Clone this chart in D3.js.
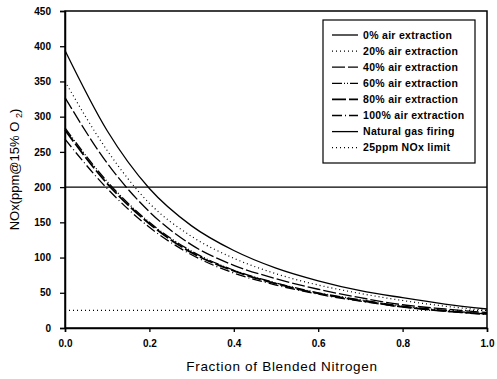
<!DOCTYPE html>
<html>
<head>
<meta charset="utf-8">
<script src="https://cdn.jsdelivr.net/npm/d3@7"></script>
<style>
  body { margin: 0; background: #fff; }
  text { font-family: Arial, "Liberation Sans", sans-serif; fill: #000; }
</style>
</head>
<body>
<script>
let w = 497;
let h = 379;

// fraction of blended nitrogen
let fractions = [0, 0.1, 0.2, 0.3, 0.4, 0.5, 0.6, 0.7, 0.8, 0.9, 1.0];

// NOx values
let air0 = [394, 280, 198, 145, 110, 85, 67, 53, 43, 34, 27];
let air20 = [350, 252, 177, 130, 99, 77, 61, 49, 39, 31, 25];
let air40 = [327, 234, 165, 118, 89, 70, 55, 43, 33, 27, 22];
let air60 = [284, 208, 150, 109, 82, 64, 50, 40, 31, 25, 20];
let air80 = [281, 205, 148, 107, 81, 63, 49, 39, 30, 24, 20];
let air100 = [268, 198, 143, 104, 78, 61, 48, 38, 30, 24, 19];

let seriesNames = ["0% air extraction", "20% air extraction", "40% air extraction",
  "60% air extraction", "80% air extraction", "100% air extraction"];
let seriesValues = [air0, air20, air40, air60, air80, air100];

let gasFiring = 200;
let noxLimit = 25;

let yTicks = [0, 50, 100, 150, 200, 250, 300, 350, 400, 450];
let xTicks = [0, 0.2, 0.4, 0.6, 0.8, 1.0];

// styles per legend entry
let styles = [
  {dash: null, width: 1.3},
  {dash: "1,3", width: 1.2},
  {dash: "13,3", width: 1.3},
  {dash: "10,2,1,2,1,2", width: 1.3},
  {dash: "14,3", width: 1.8},
  {dash: "10,3,1,3", width: 1.3},
  {dash: null, width: 1.3},
  {dash: "1,3", width: 1.2}
];

let plotLeft = 65, plotRight = 487, plotTop = 11, plotBottom = 328;

let svg = d3.select("body").append("svg").attr("width", w).attr("height", h);

let xScale = d3.scaleLinear().domain([0, 1]).range([plotLeft, plotRight]);
let yScale = d3.scaleLinear().domain([0, 450]).range([plotBottom, plotTop]);

let line = d3.line()
  .x((d, i) => xScale(fractions[i]))
  .y(d => yScale(d))
  .curve(d3.curveMonotoneX);

seriesValues.forEach((vals, i) => {
  svg.append("path")
    .attr("d", line(vals))
    .attr("fill", "none")
    .attr("stroke", "#000")
    .attr("stroke-width", styles[i].width)
    .attr("stroke-dasharray", styles[i].dash);
});

// natural gas firing and NOx limit
svg.append("line")
  .attr("x1", xScale(0)).attr("x2", xScale(1))
  .attr("y1", yScale(gasFiring)).attr("y2", yScale(gasFiring))
  .attr("stroke", "#000").attr("stroke-width", 1.3);
svg.append("line")
  .attr("x1", xScale(0)).attr("x2", xScale(1))
  .attr("y1", yScale(noxLimit)).attr("y2", yScale(noxLimit))
  .attr("stroke", "#000").attr("stroke-width", 1.2)
  .attr("stroke-dasharray", "1,3");

// frame
svg.append("rect")
  .attr("x", plotLeft).attr("y", plotTop)
  .attr("width", plotRight - plotLeft).attr("height", plotBottom - plotTop)
  .attr("fill", "none").attr("stroke", "#000").attr("stroke-width", 1.5);

let yAxis = d3.axisLeft(yScale).tickValues(yTicks).tickSize(5).tickPadding(9);
let xAxis = d3.axisBottom(xScale).tickValues(xTicks).tickSize(4).tickPadding(8)
  .tickFormat(d3.format(".1f"));

let yg = svg.append("g").attr("transform", "translate(" + plotLeft + ",0)").call(yAxis);
let xg = svg.append("g").attr("transform", "translate(0," + plotBottom + ")").call(xAxis);
[yg, xg].forEach(g => {
  g.select(".domain").attr("stroke-width", 1.5);
  g.selectAll(".tick line").attr("stroke-width", 1.3);
  g.selectAll("text").style("font-size", "10px").style("font-weight", "bold")
    .style("font-family", "Arial, 'Liberation Sans', sans-serif");
});

// axis titles
svg.append("text")
  .attr("x", 282)
  .attr("y", 371)
  .attr("text-anchor", "middle")
  .style("font-size", "13.5px")
  .style("letter-spacing", "0.7px")
  .text("Fraction of Blended Nitrogen");

let yt = svg.append("text")
  .attr("transform", "translate(19," + ((plotTop + plotBottom) / 2) + ") rotate(-90)")
  .attr("text-anchor", "middle")
  .style("font-size", "13px");
yt.append("tspan").text("NOx(ppm@15% O ");
yt.append("tspan").attr("dy", 3).style("font-size", "9px").text("2");
yt.append("tspan").attr("dy", -3).text(")");

// legend
let legendNames = seriesNames.concat(["Natural gas firing", "25ppm NOx limit"]);
svg.append("rect")
  .attr("x", 323).attr("y", 20)
  .attr("width", 152).attr("height", 143)
  .attr("fill", "#fff").attr("stroke", "#000").attr("stroke-width", 1.2);

let legend = svg.selectAll(".legend-item")
  .data(legendNames)
  .enter()
  .append("g")
  .attr("class", "legend-item")
  .attr("transform", (d, i) => "translate(0," + (35 + i * 16.1) + ")");
legend.append("line")
  .attr("x1", 332).attr("x2", 358)
  .attr("stroke", "#000")
  .attr("stroke-width", (d, i) => styles[i].width)
  .attr("stroke-dasharray", (d, i) => styles[i].dash);
legend.append("text")
  .attr("x", 363)
  .attr("dy", "0.35em")
  .style("font-size", "10.5px")
  .style("font-weight", "bold")
  .style("letter-spacing", "0.3px")
  .text(d => d);
</script>
</body>
</html>
